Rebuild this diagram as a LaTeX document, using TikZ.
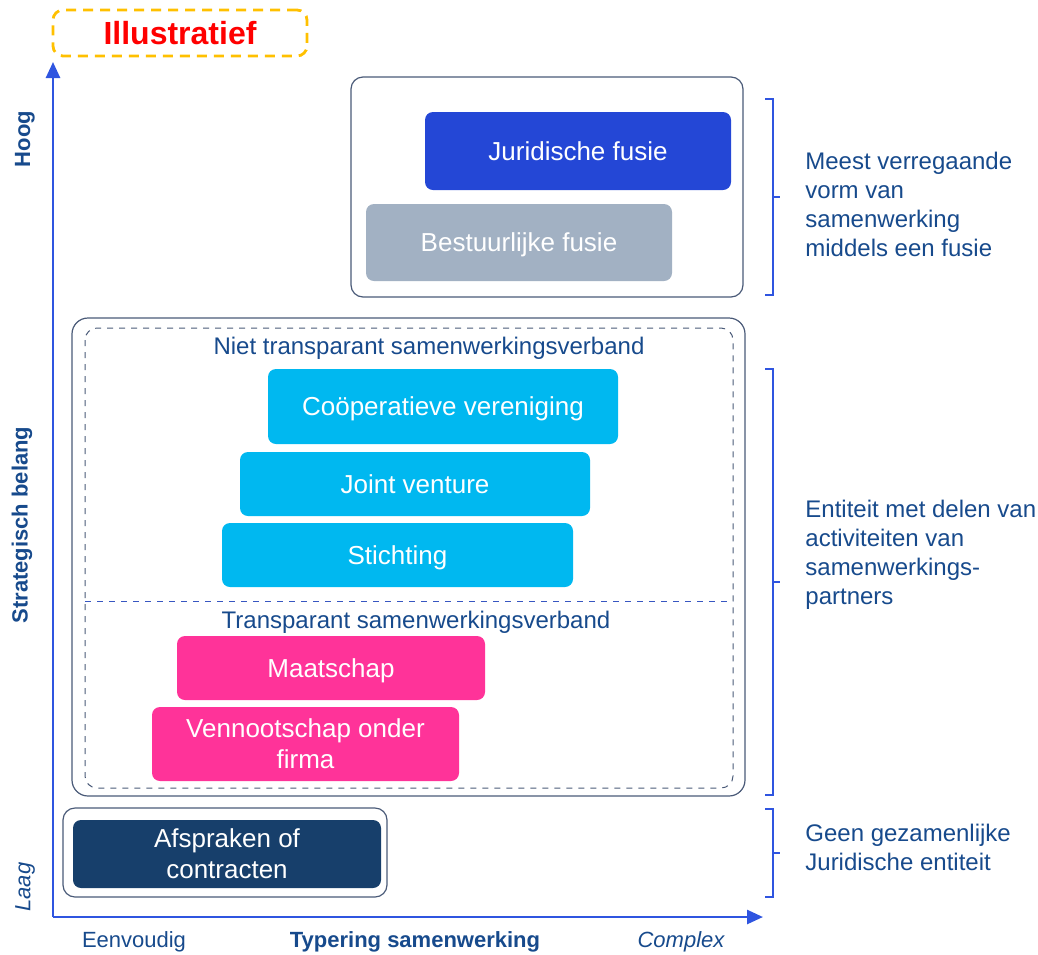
\documentclass[tikz,border=0pt]{standalone}
\usepackage{fontspec}
\setmainfont{Liberation Sans}
\usepackage{tikz}
\usetikzlibrary{arrows.meta}

\definecolor{axisblue}{HTML}{2F55E0}
\definecolor{txtblue}{HTML}{174A8C}
\definecolor{framegray}{HTML}{4A5A78}
\definecolor{fusieblue}{HTML}{2447D6}
\definecolor{fusiegray}{HTML}{A2B1C3}
\definecolor{entcyan}{HTML}{00B8F0}
\definecolor{entpink}{HTML}{FF3399}
\definecolor{navy}{HTML}{173F6B}
\definecolor{warnorange}{HTML}{FFC000}

\begin{document}
\begin{tikzpicture}[x=0.5pt,y=-0.5pt]
    \newcommand{\bracket}[3]{\draw[bracket] (765,#1) -- (773,#1) -- (773,#2) -- (765,#2) (773,#3) -- (780,#3);}
    \tikzstyle{vorm}=[
      rounded corners=4pt,
      text=white,
      align=center,
      inner sep=0pt,
      text depth=0pt,
      font=\fontsize{13}{15.5}\selectfont,
    ]
    \tikzstyle{frame}=[draw=framegray,line width=0.6pt,rounded corners=6pt]
    \tikzstyle{bracket}=[draw=axisblue,line width=0.7pt]
    \tikzstyle{uitleg}=[text=txtblue,align=left,anchor=west,inner sep=0pt,font=\fontsize{12}{14.5}\selectfont]
    \tikzstyle{groep}=[text=txtblue,font=\fontsize{12}{14}\selectfont]
    \tikzstyle{as}=[draw=axisblue,line width=1.3pt,-{Triangle[length=8pt,width=7pt]}]

    \useasboundingbox (0,0) rectangle (1038,954);

    % label
    \node[draw=warnorange,line width=1.4pt,dash pattern=on 5pt off 3.5pt,rounded corners=5pt,
          minimum width=127pt,minimum height=23pt,text=red,font=\bfseries\fontsize{16}{18}\selectfont]
          (illu) at (180,33) {Illustratief};

    % assen
    \coordinate (oorsprong) at (53,917);
    \coordinate (ytop) at (53,62);
    \coordinate (xend) at (763,917);
    \draw[as] (oorsprong) -- (ytop);
    \draw[as] (oorsprong) -- (xend);

    \node[rotate=90,text=txtblue,font=\bfseries\fontsize{11}{13}\selectfont] (hoog) at (25,139) {Hoog};
    \node[rotate=90,text=txtblue,font=\bfseries\fontsize{11}{13}\selectfont] (belang) at (22,525) {Strategisch belang};
    \node[rotate=90,text=txtblue,font=\itshape\fontsize{11}{13}\selectfont] (laag) at (25,887) {Laag};
    \node[text=txtblue,font=\fontsize{11}{13}\selectfont] (eenv) at (134,942) {Eenvoudig};
    \node[text=txtblue,font=\bfseries\fontsize{11}{13}\selectfont] (typ) at (415,942) {Typering samenwerking};
    \node[text=txtblue,font=\itshape\fontsize{11}{13}\selectfont] (compl) at (681,942) {Complex};

    % kaders
    \draw[frame] (351,77) rectangle (743,297);
    \draw[frame,rounded corners=8pt] (72,318) rectangle (745,796);
    \draw[frame,dashed,line width=0.5pt,rounded corners=6pt] (85,328) rectangle (733,788);
    \draw[draw=axisblue!70!framegray,dashed,line width=0.5pt] (85,601) -- (733,601);
    \draw[frame] (63,808) rectangle (387,897);

    \node[groep] (niet) at (429,348) {Niet transparant samenwerkingsverband};
    \node[groep] (trans) at (416,622) {Transparant samenwerkingsverband};

    % vormen
    \node[vorm,fill=fusieblue,minimum width=153pt,minimum height=39pt] (jur) at (578,151) {Juridische fusie};
    \node[vorm,fill=fusiegray,minimum width=153pt,minimum height=38.5pt] (bes) at (519,242.5) {Bestuurlijke fusie};
    \node[vorm,fill=entcyan,minimum width=175pt,minimum height=37.5pt] (coop) at (443,406.5) {Coöperatieve vereniging};
    \node[vorm,fill=entcyan,minimum width=175pt,minimum height=32pt] (jv) at (415,484) {Joint venture};
    \node[vorm,fill=entcyan,minimum width=175.5pt,minimum height=32pt] (sti) at (397.5,555) {Stichting};
    \node[vorm,fill=entpink,minimum width=154pt,minimum height=32pt] (maat) at (331,668) {Maatschap};
    \node[vorm,fill=entpink,minimum width=153.5pt,minimum height=37pt] (ven) at (305.5,744) {Vennootschap onder\\firma};
    \node[vorm,fill=navy,minimum width=154pt,minimum height=34pt] (afs) at (227,854) {Afspraken of\\contracten};

    % toelichting
    \bracket{99}{295}{197}
    \bracket{369}{795}{582}
    \bracket{809}{897}{853}
    \node[uitleg] (t1) at (805,204) {Meest verregaande\\vorm van\\samenwerking\\middels een fusie};
    \node[uitleg] (t2) at (805,555) {Entiteit met delen van\\activiteiten van\\samenwerkings-\\partners};
    \node[uitleg] (t3) at (805,847) {Geen gezamenlijke\\Juridische entiteit};
  \end{tikzpicture}
\end{document}
